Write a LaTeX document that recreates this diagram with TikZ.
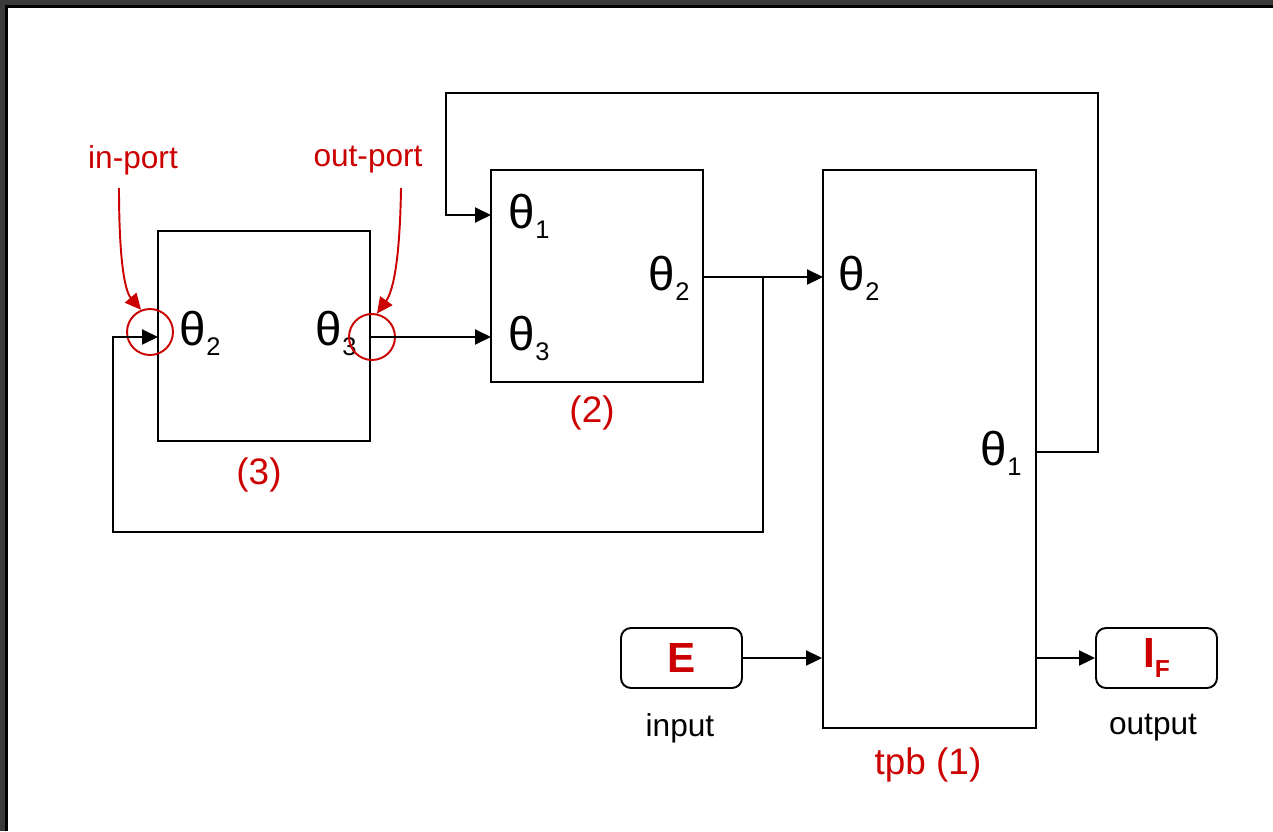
\documentclass[tikz,border=0pt]{standalone}
\usepackage{fontspec}
\setmainfont{Liberation Sans}
\usetikzlibrary{arrows.meta}

\definecolor{portred}{RGB}{204,0,0}
\definecolor{framegray}{RGB}{58,58,58}
\newcommand{\thetaport}[1]{θ\raisebox{-6pt}{\fontsize{14.5}{14.5}\selectfont #1}}

\begin{document}
\begin{tikzpicture}[x=0.02cm, y=-0.02cm, line width=1.1pt,
			block/.style={draw, rectangle, inner sep=0pt},
			io/.style={draw, rounded corners=0.2cm, minimum width=2.42cm, minimum height=1.2cm, inner sep=0pt},
			theta/.style={anchor=base west, inner sep=0pt, font=\fontsize{27}{30}\selectfont},
			tag/.style={text=portred, font=\fontsize{21}{24}\selectfont},
			plain/.style={font=\fontsize{18}{21}\selectfont},
			flow/.style={-{Triangle[length=0.32cm, width=0.3cm]}},
			portmark/.style={draw=portred, circle, minimum size=0.92cm, inner sep=0pt}]

		\useasboundingbox (0,0) rectangle (1273,831);
		\fill[framegray] (0,0) rectangle (1273,831);
		\fill[black] (5,5) rectangle (1273,831);
		\fill[white] (8,8) rectangle (1273,831);

		\node[block, minimum width=4.24cm, minimum height=4.2cm] (blk3) at (264,336) {};
		\node[block, minimum width=4.24cm, minimum height=4.24cm] (blk2) at (597,276) {};
		\node[block, minimum width=4.26cm, minimum height=11.16cm] (tpb) at (929.5,449) {};
		\node[io, font=\fontsize{24}{26}\selectfont\bfseries, text=portred] (inE) at (681.5,658) {E};
		\node[io, font=\fontsize{24}{26}\selectfont\bfseries, text=portred] (outIF) at (1156.5,658) {I\raisebox{-6pt}{\fontsize{14}{14}\selectfont F}};

		\node[theta] (t32) at (179,345) {\thetaport{2}};
		\node[theta] (t33) at (315,345) {\thetaport{3}};
		\node[theta] (t21) at (508,228) {\thetaport{1}};
		\node[theta] (t23) at (508,350) {\thetaport{3}};
		\node[theta] (t22) at (648,290) {\thetaport{2}};
		\node[theta] (t12) at (838,290) {\thetaport{2}};
		\node[theta] (t11) at (980,465) {\thetaport{1}};

		\node[tag] (lbl3) at (259,475) {(3)};
		\node[tag] (lbl2) at (592,413) {(2)};
		\node[tag] (lbl1) at (928,765) {tpb (1)};
		\node[tag, font=\fontsize{18}{21}\selectfont] (inport) at (133,160) {in-port};
		\node[tag, font=\fontsize{18}{21}\selectfont] (outport) at (368,160) {out-port};
		\node[plain] (inlbl) at (680,728) {input};
		\node[plain] (outlbl) at (1153,728) {output};

		\coordinate (b3in) at (158,337);
		\coordinate (b3out) at (370,337);
		\coordinate (b2in1) at (491,215);
		\coordinate (b2in3) at (491,337);
		\coordinate (b2out) at (703,277);
		\coordinate (split) at (763,277);
		\coordinate (tpbin2) at (823,277);
		\coordinate (tpbout1) at (1036,452);

		\node[portmark] (inmark) at (150,332) {};
		\node[portmark] (outmark) at (372,337) {};

		\draw[flow] (b3out) -- (b2in3);
		\draw[flow] (b2out) -- (tpbin2);
		\draw[flow] (split) -- ++(0,255) -- ++(-650,0) |- (b3in);
		\draw[flow] (tpbout1) -- ++(62,0) -- ++(0,-359) -- ++(-652,0) |- (b2in1);
		\draw[flow] (inE) -- (inE -| tpb.west);
		\draw[flow] (tpb.east |- outIF) -- (outIF);

		\coordinate (intail) at (119,188);
		\coordinate (outtail) at (401,188);
		\draw[flow, portred] (intail) .. controls (119,255) and (124,290) .. (inmark.112);
		\draw[flow, portred] (outtail) .. controls (400,255) and (394,290) .. (outmark.78);
	\end{tikzpicture}
\end{document}
